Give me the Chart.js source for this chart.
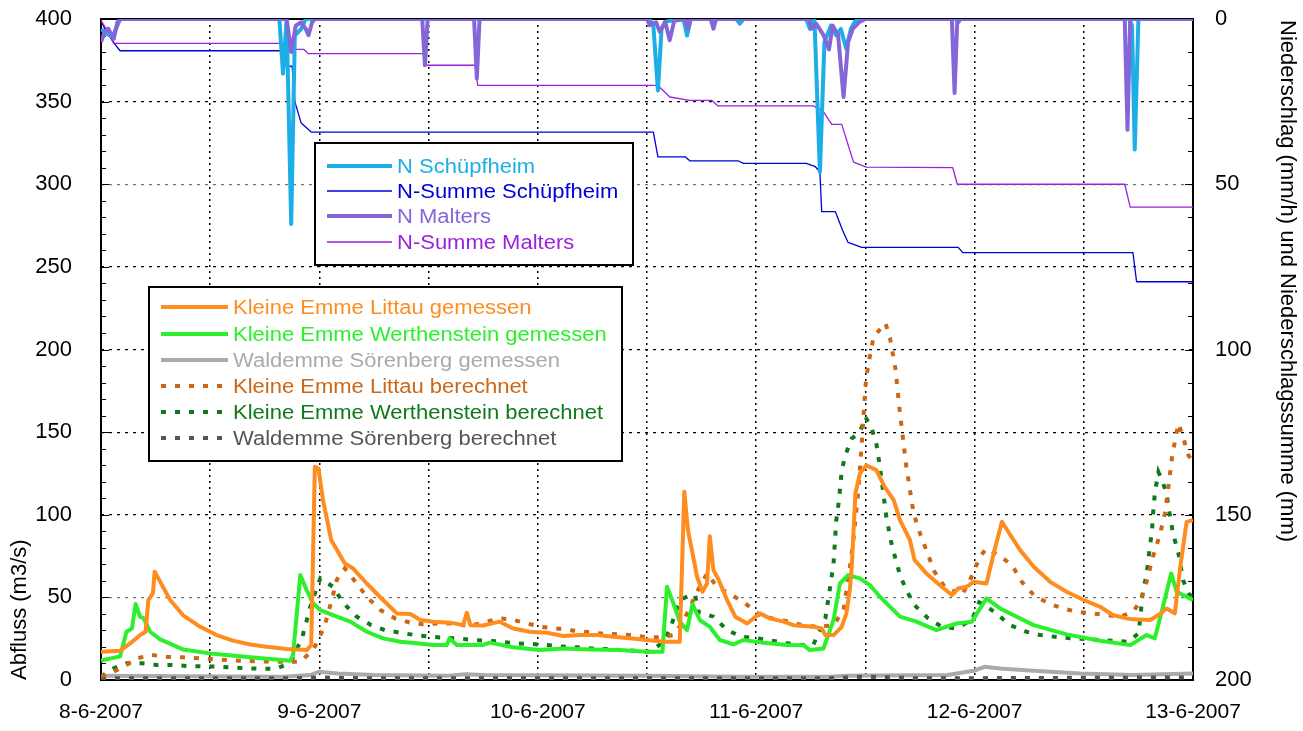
<!DOCTYPE html>
<html>
<head>
<meta charset="utf-8">
<title>Abfluss und Niederschlag</title>
<script src="https://cdn.jsdelivr.net/npm/chart.js@4.4.1/dist/chart.umd.min.js"></script>
<style>
  html, body { margin: 0; padding: 0; background: #fff; }
  #wrap { width: 1303px; height: 731px; }
</style>
</head>
<body>
<div id="wrap"><canvas id="chart" width="1303" height="731"></canvas></div>
<script>
// x = Stunden ab 8-6-2007 00:00, y = Wert

const dayLabels = ['8-6-2007', '9-6-2007', '10-6-2007', '11-6-2007', '12-6-2007', '13-6-2007'];

// Niederschlag (mm/h), rechte Achse
const nSchuepfheim = [
  [0, 3], [0.6, 4.4], [1.2, 5.4], [1.5, 3.9], [2.1, 0], [19.6, 0], [20, 16.5], [20.4, 0],
  [20.9, 62], [21.3, 5], [22, 3], [22.5, 0], [60.3, 0], [60.7, 2], [61.2, 21.6], [61.6, 3],
  [62, 0.8], [64, 0], [64.4, 5], [64.8, 0], [69.8, 0], [70.2, 1.4], [70.6, 0], [77.5, 0],
  [77.9, 3], [78.4, 0], [79, 46.3], [79.5, 7], [80.2, 2], [80.8, 5], [81.3, 3], [81.9, 9],
  [82.4, 3], [82.8, 1], [83.2, 0], [94, 0], [94.2, 1], [94.5, 0], [113, 0], [113.3, 2],
  [113.6, 39.5], [114, 0], [120, 0]
];
const nMalters = [
  [0, 7], [0.4, 4], [0.8, 2.9], [1.4, 6], [1.8, 1], [2.2, 0], [20.4, 0], [20.9, 10],
  [21.4, 2], [22, 1], [22.5, 3], [22.8, 4.9], [23.2, 1], [23.5, 0], [35.3, 0], [35.6, 14],
  [35.9, 0], [41, 0], [41.3, 18], [41.6, 0], [60, 0], [60.3, 1.9], [61, 1], [61.4, 3.9],
  [62, 0.9], [62.5, 6.4], [63, 0.5], [64.2, 0], [64.5, 2.9], [64.8, 0], [67, 0], [67.3, 2.9],
  [67.6, 0], [77.8, 0], [78.1, 2.9], [78.6, 1.5], [79.4, 4.9], [80, 9.2], [80.4, 2], [81, 4.9],
  [81.6, 23.6], [82.1, 7], [82.6, 3], [83.3, 1], [84, 0], [93.5, 0], [93.8, 22.4], [94.1, 0],
  [112.5, 0], [112.8, 33.5], [113.1, 0], [120, 0]
];
// Niederschlagssumme (mm), rechte Achse
const nSummeSchuepfheim = [
  [0, 0.5], [0.6, 4], [1.5, 7.5], [2.1, 9.6], [19.8, 9.6], [20.2, 14.2], [21, 14.3], [21.3, 25],
  [22, 31.5], [23.1, 34.2], [60.7, 34.2], [61.2, 41.7], [64.2, 41.7], [64.7, 42.9], [70, 42.9],
  [70.6, 43.7], [77.5, 43.7], [78.5, 44.7], [79, 46.3], [79.2, 58.3], [80.7, 58.3], [81.5, 64],
  [82.1, 67.6], [83.6, 69.1], [94.2, 69.1], [94.7, 70.7], [113.4, 70.7], [113.8, 79.5], [120, 79.5]
];
const nSummeMalters = [
  [0, 0.5], [0.7, 3.5], [1.4, 7.4], [20.6, 7.4], [21, 9.2], [22.3, 9.2], [22.8, 10.5],
  [35.5, 10.5], [35.8, 14], [41.1, 14], [41.4, 20.1], [61.2, 20.1], [62.5, 23.6], [64.7, 24.6],
  [67.1, 24.6], [67.8, 26.3], [78.3, 26.3], [79.4, 28.1], [80.3, 31.9], [81.4, 31.9], [82.2, 39],
  [82.7, 43.3], [84.1, 44.8], [93.6, 45], [94.1, 50], [112.5, 50], [113.1, 56.9], [120, 56.9]
];

// Abfluss (m3/s), linke Achse
const littauGemessen = [
  [0, 17.1], [2.1, 17.7], [3.2, 22.1], [4.3, 27.2], [4.9, 29.2], [5.2, 48.4], [5.7, 52.4],
  [5.9, 65.5], [6.3, 61.5], [7.6, 48.4], [9, 39.3], [10.9, 32.2], [12.7, 27.2], [14.5, 23.8],
  [16.4, 21.5], [18.2, 20.1], [20.4, 18.7], [22.6, 18.1], [23.1, 21.1], [23.5, 129], [23.9, 128],
  [24.4, 108.8], [25.3, 84.6], [26.8, 70.5], [27.7, 67.5], [29.2, 58.4], [31, 48.4], [32.5, 40.3],
  [34, 39.9], [35.1, 36.3], [36.5, 35.3], [38.4, 34.7], [39.8, 33.2], [40.2, 40.7], [40.6, 33.2],
  [42, 33], [43.8, 35.3], [45.3, 31.2], [47.1, 29.2], [49, 28.6], [50.8, 26.6], [52.6, 27.2],
  [54.5, 27.2], [56.3, 26.2], [58.1, 25.2], [60, 24.2], [61.8, 23.1], [63.6, 23.1], [64.1, 113.9],
  [64.5, 90.7], [65.5, 62.5], [66.1, 53.4], [66.6, 58.4], [66.9, 87], [67.3, 66.5], [67.8, 61.5],
  [68.8, 48.4], [69.7, 38.3], [71, 34.2], [72.4, 40.3], [73.5, 37.3], [75, 35.3], [76.1, 33.2],
  [78.3, 32.2], [79.2, 31.2], [79.6, 27.2], [80.5, 27.2], [81.4, 32.2], [81.9, 40], [82.3, 55],
  [82.5, 68.5], [82.9, 112.9], [83.4, 125], [84.1, 130], [85.2, 127], [86.1, 117], [87.1, 109],
  [87.8, 96.7], [88.9, 84.6], [89.4, 72.6], [90.7, 64.5], [92.2, 57.4], [93.5, 51.4], [94.2, 55.4],
  [95.1, 56.4], [95.9, 59.4], [97.3, 58.4], [98.1, 76.6], [99, 95.7], [99.7, 89.7], [101, 78.6],
  [102.5, 68.5], [104.3, 59.4], [106.1, 53.4], [108, 48.4], [109.8, 44.3], [111.2, 39.3],
  [112.7, 37.3], [113.4, 36.7], [115.3, 36.3], [116.2, 39.3], [117.1, 43.3], [118, 40.3],
  [118.6, 68.5], [119.3, 95.7], [120, 96.7]
];
const werthensteinGemessen = [
  [0, 11.8], [2.1, 14.3], [2.8, 29.2], [3.4, 31.2], [3.8, 46], [4.3, 38.3], [4.7, 37.3],
  [5.4, 29.2], [6.5, 24.6], [9, 18.5], [12, 16.1], [16.4, 13.7], [20.8, 11.7], [21.1, 15.1],
  [21.9, 63.5], [22.6, 54.4], [23.3, 46.4], [24.1, 42.3], [25.5, 39.3], [27.4, 35.3], [29.2, 29.2],
  [31, 25.2], [32.9, 23.2], [34.7, 22.2], [36.5, 21.2], [38, 21.2], [38.3, 25.2], [39.1, 21.2],
  [42, 21.2], [42.7, 22.6], [45.3, 19.8], [48.2, 18.1], [50.8, 19.1], [53.7, 18.5], [57, 18.1],
  [60, 17.1], [61.7, 17.1], [62.2, 56.4], [62.9, 46.4], [63.6, 35.3], [64.4, 30.2], [65, 46],
  [65.8, 36.3], [66.9, 32.2], [68, 24.2], [69.5, 21.6], [70.6, 24.2], [72.8, 22.6], [75.4, 21.2],
  [77.2, 21.1], [77.9, 18.1], [79.4, 19.1], [80.5, 36.3], [81.2, 58.4], [82.1, 63.5], [83.4, 61.5],
  [84.5, 57.4], [85.6, 50.4], [87.8, 38.3], [89.6, 35.3], [91.8, 30.2], [94, 34.2], [95.7, 35.3],
  [97.3, 49.4], [98.8, 43.3], [102.5, 33.2], [106.1, 27.6], [109.8, 23.8], [113.1, 21.1],
  [114.9, 27.2], [115.8, 25.2], [116.7, 44.3], [117.6, 64.5], [118.2, 53.4], [120, 48.4]
];
const soerenbergGemessen = [
  [0, 2.5], [20, 2], [23, 3], [24, 5], [26, 4], [30, 3], [38, 2.5], [40, 3.5], [42, 3], [60, 2.5],
  [70, 2], [80, 2], [82, 2.5], [93, 3], [95.9, 5.6], [97.1, 8], [98.8, 7], [102.5, 5.6],
  [107.6, 4], [113.4, 3], [120, 4]
];
const littauBerechnet = [
  [0, 2], [1.4, 5], [2.8, 9.1], [3.9, 13.1], [5.6, 15.1], [7.2, 14.1], [9, 13.7], [12, 12.7],
  [15.3, 11.7], [18.6, 11.1], [21.9, 11.1], [23.3, 18.1], [23.9, 24.6], [24.6, 33.2], [25.5, 51.4],
  [25.9, 60.5], [26.8, 67.5], [28.1, 58.4], [29.2, 50.4], [30.7, 42.3], [32.3, 37.3], [34, 34.7],
  [35.4, 33.7], [37.2, 34.2], [38.7, 34.2], [40.4, 32.6], [42, 34.7], [43.7, 37.3], [45.1, 36.7],
  [46.8, 34.2], [48.4, 32.2], [50.1, 31.2], [51.5, 30.2], [53.2, 29.2], [54.8, 28.2], [56.3, 27.8],
  [58, 27.2], [59.6, 26.2], [61.2, 25.8], [62.9, 27.2], [63.8, 34.2], [64.7, 43.3], [65.3, 51.4],
  [66.6, 64.5], [67.7, 56.4], [69.3, 51.4], [70.8, 46.4], [72.4, 39.3], [74.1, 36.7], [75.7, 35.3],
  [77.4, 32.6], [79, 32.2], [80.5, 33.2], [81.6, 42.3], [82.3, 68.5], [82.7, 85.6], [83.2, 112.9],
  [83.6, 143.2], [84, 177.4], [84.3, 190.5], [84.9, 207.6], [86.2, 216], [86.7, 207],
  [87.3, 188.4], [87.8, 161.3], [88.5, 129], [89.3, 100.7], [90, 88.7], [90.9, 75.6], [91.6, 65.5],
  [92.7, 56.4], [94.6, 51.4], [95.5, 60.5], [96.6, 74.6], [97.3, 79.6], [98.8, 75], [100.1, 69.5],
  [101.2, 59.4], [102.5, 51.4], [104.1, 46.4], [105.7, 43.3], [107.2, 41.3], [108.9, 40.3],
  [110.5, 39.3], [112, 38.3], [113.4, 41.3], [114.2, 47.4], [114.9, 59.4], [115.6, 74.6],
  [116.4, 88.7], [116.9, 100.7], [117.3, 116.9], [117.7, 135], [118, 144.1], [118.4, 155.2],
  [118.9, 147.1], [119.5, 136], [120, 132]
];
const werthensteinBerechnet = [
  [0, 2], [1.4, 7.1], [2.8, 10.1], [4.5, 10.1], [6.1, 9.1], [7.8, 9.1], [9.4, 8.5], [12.7, 8.1],
  [15.8, 7.1], [19.1, 6.7], [20.8, 10.1], [22.1, 25.6], [23, 44.3], [23.5, 52.4], [24.1, 61.5],
  [25.5, 56.4], [26.6, 46.8], [28.1, 38.3], [29.7, 33.2], [31.2, 30.2], [32.9, 28.6], [34.5, 27.2],
  [36.2, 26.2], [37.6, 25.6], [39.3, 25.2], [40.9, 24.2], [42.6, 23.8], [44, 23.1], [45.7, 22.2],
  [47.3, 21.8], [49, 21.2], [50.6, 20.2], [52.3, 19.8], [53.9, 19.1], [55.6, 18.7], [57, 18.1],
  [58.7, 17.7], [60.3, 17.1], [61.6, 22.2], [62.5, 30.2], [63.6, 48.4], [64.4, 50.4], [65.3, 51.4],
  [65.6, 41.3], [67.3, 38.3], [68.8, 30.2], [70.4, 26.2], [72.1, 25.2], [73.7, 23.8], [75.4, 22.2],
  [76.8, 21.2], [78.3, 21.6], [79.6, 37.3], [80.1, 55.4], [80.5, 70.5], [80.8, 96.7], [81.1, 108.8],
  [81.4, 126.9], [81.8, 136], [82.5, 146.1], [83.4, 150.1], [84, 159.2], [84.7, 152.1], [85.2, 143],
  [85.6, 129], [86.3, 98.7], [86.9, 81.6], [87.8, 63.5], [88.5, 54.4], [89.4, 45.3], [90.9, 37.3],
  [92.4, 32.2], [94, 31.2], [95.7, 36.3], [96.5, 47], [97.2, 45], [98.4, 40.3], [99.9, 33.2],
  [101.7, 29.2], [103.2, 27.2], [104.8, 26.2], [106.5, 25.2], [108.1, 24.8], [109.8, 24.2],
  [111.2, 23.8], [112.9, 23.1], [114, 28.2], [114.2, 37.3], [114.5, 54.4], [114.9, 63.5],
  [115.1, 73.6], [115.5, 90.7], [115.6, 99.8], [115.8, 112.9], [116.2, 125.9], [116.6, 120.9],
  [117.1, 112.9], [117.3, 104.8], [117.8, 88.7], [118.4, 76.6], [118.9, 60.5], [119.5, 52.4], [120, 50]
];
const soerenbergBerechnet = [
  [0, 1], [20, 1], [24, 1.5], [30, 1], [80, 1], [84, 2], [90, 1], [117, 1.5], [120, 1.5]
];

const rightTitle = 'Niederschlag (mm/h) und Niederschlagssumme (mm)';

const FONT = '"Liberation Sans", Arial, sans-serif';

const toXY = pts => pts.map(([x, y]) => ({ x, y }));

function series(label, data, color, width, axis, dash) {
  return {
    label,
    data: toXY(data),
    yAxisID: axis,
    borderColor: color,
    backgroundColor: color,
    borderWidth: width,
    borderDash: dash || [],
    borderCapStyle: 'butt',
    borderJoinStyle: dash ? 'miter' : 'round',
    pointRadius: 0,
    tension: 0,
    fill: false,
  };
}

const DOT = [5, 9];

// first dataset is drawn on top
const datasets = [
  series('N Malters', nMalters, '#8466d8', 4, 'y2'),
  series('N Schüpfheim', nSchuepfheim, '#1caee6', 4, 'y2'),
  series('N-Summe Malters', nSummeMalters, '#9a22dd', 1.3, 'y2'),
  series('N-Summe Schüpfheim', nSummeSchuepfheim, '#0000d8', 1.3, 'y2'),
  series('Kleine Emme Littau gemessen', littauGemessen, '#ff8c1e', 4, 'y'),
  series('Kleine Emme Werthenstein gemessen', werthensteinGemessen, '#2cf02c', 4, 'y'),
  series('Kleine Emme Littau berechnet', littauBerechnet, '#cc6614', 4, 'y', DOT),
  series('Kleine Emme Werthenstein berechnet', werthensteinBerechnet, '#0e7a1a', 4, 'y', DOT),
  series('Waldemme Sörenberg berechnet', soerenbergBerechnet, '#555555', 4, 'y', DOT),
  series('Waldemme Sörenberg gemessen', soerenbergGemessen, '#aaaaaa', 4, 'y'),
];

const legendBoxes = [
  {
    x: 315, y: 143, w: 318, h: 122, lineX0: 327, lineX1: 392, textX: 397,
    rowY: [166, 191, 216, 242],
    items: ['N Schüpfheim', 'N-Summe Schüpfheim', 'N Malters', 'N-Summe Malters'],
  },
  {
    x: 149, y: 287, w: 473, h: 174, lineX0: 161, lineX1: 228, textX: 233,
    rowY: [307, 334, 360, 386, 412, 438],
    items: [
      'Kleine Emme Littau gemessen', 'Kleine Emme Werthenstein gemessen', 'Waldemme Sörenberg gemessen',
      'Kleine Emme Littau berechnet', 'Kleine Emme Werthenstein berechnet', 'Waldemme Sörenberg berechnet',
    ],
  },
];

// ─── Plot frame, minor ticks, right title ───────────────────────────────────

const frame = {
  id: 'frame',
  beforeDatasetsDraw(chart) {
    const { ctx, chartArea: a, scales } = chart;
    ctx.save();
    ctx.strokeStyle = '#000';
    ctx.lineWidth = 1;
    for (let v = 0; v <= 400; v += 10) {
      const y = Math.round(scales.y.getPixelForValue(v)) + 0.5;
      ctx.beginPath();
      ctx.moveTo(a.left, y);
      ctx.lineTo(a.left + (v % 50 ? 5 : 8), y);
      ctx.stroke();
    }
    for (let v = 0; v <= 200; v += 10) {
      const y = Math.round(scales.y2.getPixelForValue(v)) + 0.5;
      ctx.beginPath();
      ctx.moveTo(a.right, y);
      ctx.lineTo(a.right - (v % 50 ? 5 : 8), y);
      ctx.stroke();
    }
    ctx.lineWidth = 2;
    ctx.strokeRect(a.left, a.top, a.right - a.left, a.bottom - a.top);

    // right axis title, reading downwards from the top of the plot
    ctx.translate(chart.width - 16, a.top);
    ctx.rotate(Math.PI / 2);
    ctx.font = '22px ' + FONT;
    ctx.fillStyle = '#000';
    ctx.textAlign = 'left';
    ctx.textBaseline = 'middle';
    ctx.fillText(rightTitle, 1, 0);
    ctx.restore();
  },
};

// ─── Legend boxes ───────────────────────────────────────────────────────────

const boxLegend = {
  id: 'boxLegend',
  afterDraw(chart) {
    const { ctx } = chart;
    const byLabel = {};
    chart.data.datasets.forEach(d => { byLabel[d.label] = d; });
    ctx.save();
    legendBoxes.forEach(box => {
      ctx.fillStyle = '#fff';
      ctx.fillRect(box.x, box.y, box.w, box.h);
      ctx.strokeStyle = '#000';
      ctx.lineWidth = 2;
      ctx.setLineDash([]);
      ctx.strokeRect(box.x, box.y, box.w, box.h);
      box.items.forEach((label, i) => {
        const d = byLabel[label];
        const y = box.rowY[i];
        ctx.strokeStyle = d.borderColor;
        ctx.lineWidth = d.borderWidth;
        ctx.lineCap = 'butt';
        ctx.setLineDash(d.borderDash);
        ctx.beginPath();
        ctx.moveTo(box.lineX0, y);
        ctx.lineTo(box.lineX1, y);
        ctx.stroke();
        ctx.setLineDash([]);
        ctx.save();
        ctx.translate(box.textX, y);
        ctx.scale(1.1, 1);
        ctx.font = '20px ' + FONT;
        ctx.textBaseline = 'middle';
        ctx.fillStyle = d.borderColor;
        ctx.fillText(label, 0, 1);
        ctx.restore();
      });
    });
    ctx.restore();
  },
};

const whiteBg = {
  id: 'whiteBg',
  beforeDraw(chart) {
    const { ctx, width, height } = chart;
    ctx.save();
    ctx.fillStyle = '#fff';
    ctx.fillRect(0, 0, width, height);
    ctx.restore();
  },
};

new Chart(document.getElementById('chart'), {
  type: 'line',
  data: { datasets },
  options: {
    responsive: false,
    animation: false,
    devicePixelRatio: 1,
    layout: { padding: { left: 0, right: 0, top: 19, bottom: 0 } },
    plugins: {
      legend: { display: false },
      tooltip: { enabled: false },
    },
    scales: {
      x: {
        type: 'linear',
        min: 0,
        max: 120,
        afterFit: s => { s.height = 51; },
        ticks: {
          stepSize: 12,
          autoSkip: false,
          maxRotation: 0,
          padding: 20,
          color: '#000',
          font: { family: FONT, size: 21 },
          callback: v => (v % 24 === 0 ? dayLabels[v / 24] : ''),
        },
        grid: { color: '#000', lineWidth: 1.5, drawTicks: false },
        border: { display: false, dash: [2, 4] },
      },
      y: {
        position: 'left',
        min: 0,
        max: 400,
        afterFit: s => { s.width = 101; },
        ticks: {
          stepSize: 50,
          padding: 0,
          color: '#000',
          font: { family: FONT, size: 22 },
        },
        grid: {
          drawTicks: true,
          tickLength: 29,
          tickColor: 'rgba(0,0,0,0)',
          lineWidth: 1.2,
          color: c => (c.tick && (c.tick.value === 300 || c.tick.value === 50) ? '#777' : '#000'),
        },
        border: { display: false, dash: [3, 5] },
        title: {
          display: true,
          text: 'Abfluss (m3/s)',
          align: 'start',
          color: '#000',
          font: { family: FONT, size: 22 },
          padding: { top: 7, bottom: 0 },
        },
      },
      y2: {
        position: 'right',
        min: 0,
        max: 200,
        reverse: true,
        afterFit: s => { s.width = 110; },
        ticks: {
          stepSize: 50,
          padding: 0,
          color: '#000',
          font: { family: FONT, size: 22 },
        },
        grid: {
          drawOnChartArea: false,
          drawTicks: true,
          tickLength: 22,
          tickColor: 'rgba(0,0,0,0)',
        },
        border: { display: false },
      },
    },
  },
  plugins: [whiteBg, frame, boxLegend],
});
</script>
</body>
</html>
